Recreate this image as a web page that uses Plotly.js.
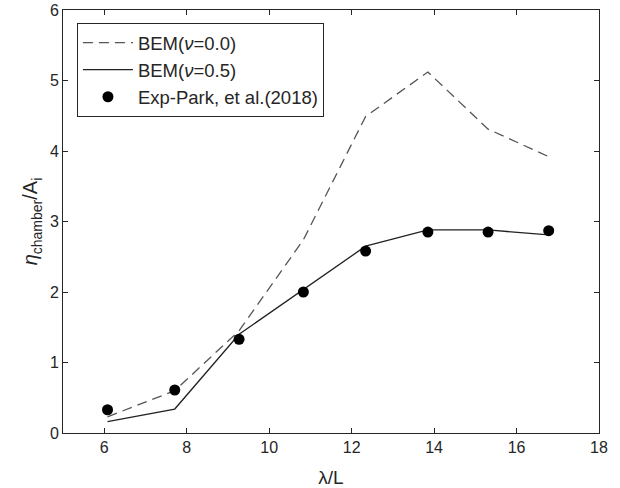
<!DOCTYPE html>
<html><head><meta charset="utf-8">
<script src="https://cdn.plot.ly/plotly-3.0.1.min.js"></script>
<style>html,body{margin:0;padding:0;background:#fff}</style>
</head><body>
<div id="chart" style="width:620px;height:488px"></div>
<script>
const xVals = [6.08, 7.71, 9.27, 10.83, 12.34, 13.85, 15.31, 16.78];
const bem00 = [0.23, 0.60, 1.45, 2.74, 4.49, 5.12, 4.31, 3.92];
const bem05 = [0.16, 0.34, 1.40, 2.03, 2.65, 2.88, 2.88, 2.81];
const expX = [6.08, 7.71, 9.27, 10.83, 12.34, 13.85, 15.31, 16.78];
const expY = [0.33, 0.61, 1.33, 2.00, 2.58, 2.85, 2.85, 2.87];
const xTicks = [6, 8, 10, 12, 14, 16, 18];
const yTicks = [0, 1, 2, 3, 4, 5, 6];

const fam = 'Liberation Sans, Arial, sans-serif';
const tickFont = {family: fam, size: 16, color: '#262626'};
const traces = [
  {x: xVals, y: bem00, mode: 'lines', name: 'BEM(<i>ν</i>=0.0)',
   line: {color: '#555555', width: 1.3, dash: '10px,6px'}},
  {x: xVals, y: bem05, mode: 'lines', name: 'BEM(<i>ν</i>=0.5)',
   line: {color: '#222222', width: 1.3}},
  {x: expX, y: expY, mode: 'markers', name: 'Exp-Park, et al.(2018)',
   marker: {color: '#000000', size: 11}}
];
const axisCommon = {showline: true, mirror: 'ticks', linecolor: '#262626', linewidth: 1,
  ticks: 'inside', ticklen: 5, tickcolor: '#262626', showgrid: false, zeroline: false,
  tickfont: tickFont};
const layout = {
  width: 620, height: 488,
  margin: {l: 63, r: 21, t: 10, b: 55},
  paper_bgcolor: '#fff', plot_bgcolor: '#fff',
  font: tickFont,
  showlegend: true,
  legend: {x: 0.026, y: 0.969, xanchor: 'left', yanchor: 'top',
    bordercolor: '#262626', borderwidth: 1, bgcolor: '#fff',
    font: {family: fam, size: 18.5, color: '#262626'},
    tracegroupgap: 0, itemwidth: 50},
  xaxis: Object.assign({}, axisCommon, {range: [5, 18], tickvals: xTicks,
    title: {text: 'λ/L', font: {family: fam, size: 19, color: '#262626'}, standoff: 16}}),
  yaxis: Object.assign({}, axisCommon, {range: [0, 6], tickvals: yTicks,
    title: {text: '<i>η</i><sub>chamber</sub>/A<sub>i</sub>', font: {family: fam, size: 20, color: '#262626'}, standoff: 6}})
};
Plotly.newPlot('chart', traces, layout, {displayModeBar: false, staticPlot: true});
</script>
</body></html>
